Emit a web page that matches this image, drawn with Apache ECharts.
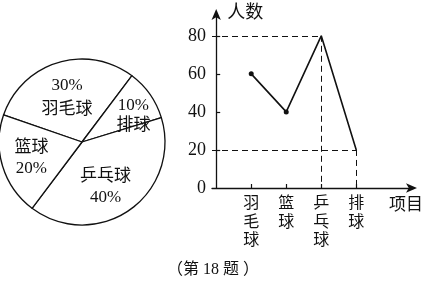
<!DOCTYPE html>
<html>
<head>
<meta charset="utf-8">
<script src="https://cdn.jsdelivr.net/npm/echarts@6/dist/echarts.min.js"></script>
<style>html,body{margin:0;padding:0;background:#fff}#c{width:426px;height:284px}</style>
</head>
<body>
<div id="c"></div>
<script>
// ---- data ----
const pieNames = ['羽毛球', '排球', '乒乓球', '篮球'];
const piePercents = [30, 10, 40, 20];
const categories = ['羽毛球', '篮球', '乒乓球', '排球'];
const counts = [60, 40, 80, 20];
const yTickValues = [0, 20, 40, 60, 80];
const guideCategories = ['乒乓球', '排球'];
const captionText = '（第 18 题 ）';

// ---- styling helpers ----
const FONT = "'Liberation Serif', 'Noto Sans CJK SC', serif";
const pieLabelShift = [[-2, -2], [15, -1], [-2, 9], [-8, 3]];
const pieLineHeights = [24, 20, 21, 21];
const percentFirst = { '羽毛球': true, '排球': true };
const xMin = -0.12, xMax = 5.62;

const catPos = categories.map((c, i) => i + 1);
const lineData = categories.map((c, i) => [catPos[i], counts[i]]);
const guideLines = [];
guideCategories.forEach(name => {
  const i = categories.indexOf(name);
  guideLines.push([{ coord: [xMin, counts[i]] }, { coord: [catPos[i], counts[i]] }]);
  guideLines.push([{ coord: [catPos[i], counts[i]] }, { coord: [catPos[i], 0] }]);
});

const chart = echarts.init(document.getElementById('c'), null, { renderer: 'canvas' });
chart.setOption({
  backgroundColor: '#fff',
  animation: false,
  title: {
    text: captionText,
    left: 'center',
    top: 257,
    textStyle: { fontFamily: FONT, fontSize: 16, fontWeight: 'normal', color: '#111' }
  },
  grid: { left: 212, top: 13, right: 9, bottom: 96 },
  xAxis: {
    type: 'value',
    min: xMin,
    max: xMax,
    name: '项目',
    nameLocation: 'end',
    nameGap: -24,
    nameTextStyle: { fontFamily: FONT, fontSize: 17, color: '#111', align: 'left', verticalAlign: 'top', padding: [9, 0, 0, 0] },
    axisLine: { show: true, lineStyle: { color: '#111', width: 1.3 }, symbol: ['none', 'arrow'], symbolSize: [7, 11], symbolOffset: [0, 4] },
    axisTick: { show: true, inside: true, length: 4, lineStyle: { color: '#111', width: 1.2 }, customValues: catPos },
    axisLabel: {
      customValues: catPos,
      margin: 7,
      fontFamily: FONT, fontSize: 16, color: '#111', lineHeight: 18.5,
      verticalAlign: 'top',
      formatter: v => {
        const i = catPos.indexOf(Math.round(v));
        return i >= 0 ? categories[i].split('').join('\n') : '';
      }
    },
    splitLine: { show: false }
  },
  yAxis: {
    type: 'value',
    min: 0,
    max: 92,
    name: '人数',
    nameLocation: 'end',
    nameGap: 0,
    nameTextStyle: { fontFamily: FONT, fontSize: 18, color: '#111', align: 'left', verticalAlign: 'middle', padding: [0, 0, 0, 11] },
    axisLine: { show: true, lineStyle: { color: '#111', width: 1.3 }, symbol: ['none', 'arrow'], symbolSize: [7, 11], symbolOffset: [0, 4] },
    axisTick: { show: true, inside: true, length: 4, lineStyle: { color: '#111', width: 1.2 }, customValues: yTickValues.filter(v => v > 0) },
    axisLabel: { customValues: yTickValues, margin: 6, fontFamily: FONT, fontSize: 18, color: '#111' },
    splitLine: { show: false }
  },
  series: [
    {
      type: 'pie',
      center: [82, 142],
      radius: [0, 83],
      startAngle: 161,
      clockwise: true,
      avoidLabelOverlap: false,
      silent: true,
      data: pieNames.map((n, i) => ({ name: n, value: piePercents[i], label: { lineHeight: pieLineHeights[i] } })),
      itemStyle: { color: '#fff', borderColor: '#111', borderWidth: 1.3 },
      label: {
        show: true,
        position: 'inside',
        fontFamily: FONT,
        fontSize: 17,
        lineHeight: 21,
        color: '#111',
        formatter: p => percentFirst[p.name] ? (piePercents[p.dataIndex] + '%\n' + p.name) : (p.name + '\n' + piePercents[p.dataIndex] + '%')
      },
      labelLine: { show: false },
      labelLayout: p => ({ dx: pieLabelShift[p.dataIndex][0], dy: pieLabelShift[p.dataIndex][1] }),
      emphasis: { disabled: true }
    },
    {
      type: 'line',
      data: lineData,
      symbol: 'circle',
      symbolSize: (v, p) => (p.dataIndex < 2 ? 5 : 0),
      lineStyle: { color: '#111', width: 1.6 },
      itemStyle: { color: '#111' },
      silent: true,
      markLine: {
        silent: true,
        symbol: ['none', 'none'],
        label: { show: false },
        lineStyle: { color: '#111', width: 1, type: [6, 4] },
        data: guideLines
      }
    }
  ]
});
</script>
</body>
</html>
